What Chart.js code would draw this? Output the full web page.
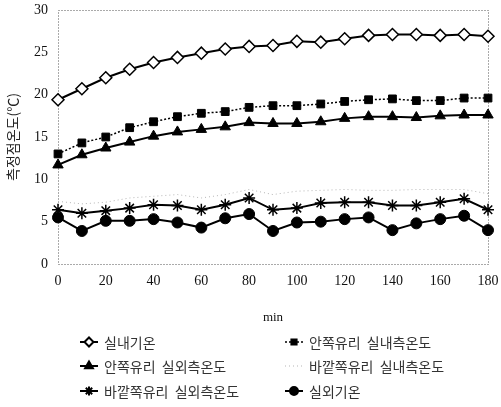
<!DOCTYPE html>
<html>
<head>
<meta charset="utf-8">
<script src="https://cdn.jsdelivr.net/npm/chart.js@4"></script>
<style>
  html, body { margin: 0; padding: 0; background: #fff; }
</style>
</head>
<body>
<canvas id="tempChart" width="501" height="407"></canvas>
<script>
// time (min) and measured temperatures (℃)
const minutes = [0, 10, 20, 30, 40, 50, 60, 70, 80, 90, 100, 110, 120, 130, 140, 150, 160, 170, 180];
const indoorAir = [19.4, 20.7, 22.0, 23.0, 23.8, 24.4, 24.9, 25.4, 25.7, 25.8, 26.3, 26.2, 26.6, 27.0, 27.1, 27.1, 27.0, 27.1, 26.9];
const innerGlassIn = [13.0, 14.3, 15.0, 16.1, 16.8, 17.4, 17.8, 18.0, 18.5, 18.7, 18.7, 18.9, 19.2, 19.4, 19.5, 19.3, 19.3, 19.6, 19.6];
const innerGlassOut = [11.7, 12.9, 13.7, 14.4, 15.1, 15.6, 15.9, 16.2, 16.7, 16.6, 16.6, 16.8, 17.2, 17.4, 17.4, 17.3, 17.5, 17.6, 17.6];
const outerGlassIn = [7.4, 7.1, 7.3, 7.8, 8.0, 8.2, 7.8, 8.2, 8.8, 8.2, 8.6, 8.7, 8.8, 8.7, 8.7, 8.8, 8.8, 8.8, 8.3];
const outerGlassOut = [6.4, 6.0, 6.3, 6.6, 7.0, 6.9, 6.4, 7.0, 7.8, 6.4, 6.6, 7.2, 7.3, 7.3, 6.9, 6.9, 7.3, 7.7, 6.4];
const outdoorAir = [5.5, 3.9, 5.1, 5.1, 5.3, 4.9, 4.3, 5.4, 5.9, 3.9, 4.9, 5.0, 5.3, 5.5, 4.0, 4.8, 5.3, 5.7, 4.0];

const seriesNames = ["실내기온", "안쪽유리  실내측온도", "안쪽유리  실외측온도", "바깥쪽유리  실내측온도", "바깥쪽유리  실외측온도", "실외기온"];

const toPoints = arr => arr.map((v, i) => ({ x: minutes[i], y: v }));

const serif = "'Liberation Serif', 'DejaVu Serif', serif";
const kr = "'Noto Sans CJK KR', sans-serif";

// dotted frame round the plot area
const framePlugin = {
    id: "frame",
    beforeDatasetsDraw(chart) {
        const a = chart.chartArea;
        const ctx = chart.ctx;
        ctx.save();
        ctx.strokeStyle = "#555";
        ctx.lineWidth = 1;
        ctx.setLineDash([1, 2]);
        ctx.strokeRect(Math.round(a.left) + 0.5, Math.round(a.top) + 0.5, Math.round(a.right - a.left), Math.round(a.bottom - a.top));
        ctx.restore();
    }
};

// two-column legend under the axis title
const legendPlugin = {
    id: "gridLegend",
    afterDraw(chart) {
        const ctx = chart.ctx;
        const colX = [80, 285];
        const rowY = [342, 366, 391];
        ctx.save();
        chart.data.datasets.forEach((ds, i) => {
            const x = colX[i % 2];
            const y = rowY[Math.floor(i / 2)];
            ctx.strokeStyle = ds.borderColor;
            ctx.lineWidth = ds.borderWidth;
            ctx.setLineDash(ds.borderDash || []);
            ctx.beginPath();
            ctx.moveTo(x, y);
            ctx.lineTo(x + 18, y);
            ctx.stroke();
            ctx.setLineDash([]);
            if (ds.pointRadius > 0) {
                ctx.fillStyle = ds.pointBackgroundColor;
                ctx.strokeStyle = ds.pointBorderColor;
                Chart.helpers.drawPoint(ctx, {
                    pointStyle: ds.pointStyle,
                    radius: ds.pointRadius - 1.5,
                    rotation: 0,
                    borderWidth: ds.pointBorderWidth
                }, x + 9, y);
            }
            ctx.fillStyle = "#333";
            ctx.font = "14px " + kr;
            ctx.textBaseline = "middle";
            ctx.textAlign = "left";
            ctx.fillText(ds.label, x + 24, y + 1);
        });
        ctx.restore();
    }
};

function lineSet(label, values, style) {
    return Object.assign({
        label: label,
        data: toPoints(values),
        borderColor: "#000",
        borderWidth: 2,
        pointBackgroundColor: "#000",
        pointBorderColor: "#000",
        pointBorderWidth: 1,
        pointRadius: 5,
        tension: 0,
        clip: 8
    }, style);
}

new Chart(document.getElementById("tempChart"), {
    type: "line",
    data: {
        datasets: [
            lineSet(seriesNames[0], indoorAir, { pointStyle: "rectRot", pointRadius: 6, pointBackgroundColor: "#fff", pointBorderWidth: 1.5 }),
            lineSet(seriesNames[1], innerGlassIn, { pointStyle: "rect", pointRadius: 5.5, borderDash: [2, 2], borderWidth: 1.5 }),
            lineSet(seriesNames[2], innerGlassOut, { pointStyle: "triangle", pointRadius: 6 }),
            lineSet(seriesNames[3], outerGlassIn, { borderColor: "#b5b5b5", borderWidth: 1, borderDash: [1, 3], pointRadius: 0 }),
            lineSet(seriesNames[4], outerGlassOut, { pointStyle: "star", pointRadius: 6, pointBorderWidth: 1.5 }),
            lineSet(seriesNames[5], outdoorAir, { pointStyle: "circle", pointRadius: 5.5 })
        ]
    },
    options: {
        responsive: false,
        animation: false,
        layout: { padding: { top: 10, right: 13, left: 0, bottom: 78 } },
        plugins: {
            legend: { display: false },
            tooltip: { enabled: false }
        },
        scales: {
            x: {
                type: "linear",
                min: 0,
                max: 180,
                grid: { display: false, drawTicks: false },
                border: { display: false },
                ticks: { stepSize: 20, padding: 9, color: "#111", font: { family: serif, size: 14 } },
                title: { display: true, text: "min", color: "#111", font: { family: serif, size: 13 } },
                afterFit(scale) {
                    scale.height = 65;
                    scale.paddingLeft = 0;
                    scale.paddingRight = 0;
                }
            },
            y: {
                min: 0,
                max: 30,
                grid: { display: false, drawTicks: false },
                border: { display: false },
                ticks: { stepSize: 5, padding: 10, color: "#111", font: { family: serif, size: 14 } },
                title: { display: true, text: "측정점온도(℃)", color: "#222", font: { family: kr, size: 14 } },
                afterFit(scale) {
                    scale.width = 58;
                    scale.paddingTop = 0;
                    scale.paddingBottom = 0;
                }
            }
        }
    },
    plugins: [framePlugin, legendPlugin]
});
</script>
</body>
</html>
